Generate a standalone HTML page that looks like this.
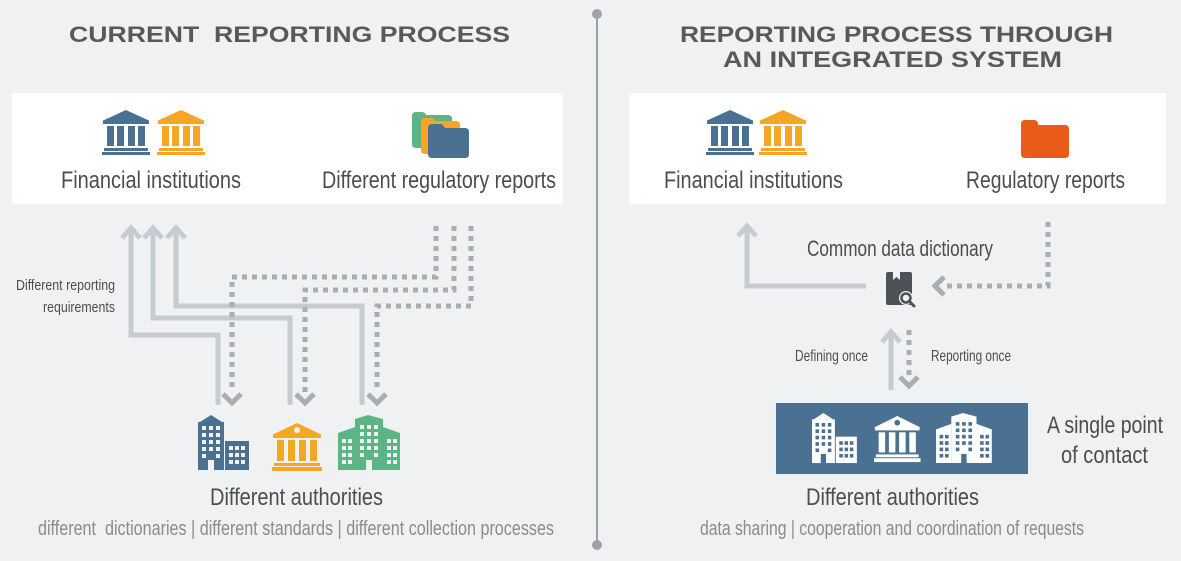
<!DOCTYPE html>
<html><head><meta charset="utf-8"><style>
html,body{margin:0;padding:0;background:#f0f1f3;}
svg{display:block;}
text{font-family:"Liberation Sans",sans-serif;}
</style></head><body>
<svg width="1181" height="561" viewBox="0 0 1181 561" xmlns="http://www.w3.org/2000/svg">
<defs>
<g id="bank">
  <polygon points="0,11 24,0 48,11"/>
  <rect x="1" y="11" width="46" height="3"/>
  <rect x="5" y="16" width="7" height="20"/>
  <rect x="15" y="16" width="7" height="20"/>
  <rect x="26" y="16" width="7" height="20"/>
  <rect x="36" y="16" width="7" height="20"/>
  <rect x="2" y="38" width="44" height="3"/>
  <rect x="0" y="42" width="48" height="3"/>
</g>
<g id="bankc">
  <polygon points="0,12 25,0 50,12"/>
  <rect x="1" y="12" width="48" height="3"/>
  <rect x="5" y="17" width="7" height="21"/>
  <rect x="16" y="17" width="7" height="21"/>
  <rect x="27" y="17" width="7" height="21"/>
  <rect x="38" y="17" width="7" height="21"/>
  <rect x="2" y="40" width="46" height="3"/>
  <rect x="0" y="44" width="50" height="4"/>
  <circle cx="25" cy="7" r="3" style="fill:var(--w)"/>
</g>
<g id="tower">
  <polygon points="2,7 13,0 24,7"/>
  <rect x="0" y="7" width="26" height="48"/>
  <rect x="27" y="26" width="24" height="29"/>
  <g style="fill:var(--w)">
    <rect x="4" y="11" width="4" height="4"/><rect x="11" y="11" width="4" height="4"/><rect x="18" y="11" width="4" height="4"/>
    <rect x="4" y="18" width="4" height="4"/><rect x="11" y="18" width="4" height="4"/><rect x="18" y="18" width="4" height="4"/>
    <rect x="4" y="25" width="4" height="4"/><rect x="11" y="25" width="4" height="4"/><rect x="18" y="25" width="4" height="4"/>
    <rect x="4" y="32" width="4" height="4"/><rect x="11" y="32" width="4" height="4"/><rect x="18" y="32" width="4" height="4"/>
    <rect x="4" y="39" width="4" height="4"/><rect x="18" y="39" width="4" height="4"/>
    <rect x="10" y="45" width="6" height="10"/>
    <rect x="31" y="31" width="4" height="4"/><rect x="37" y="31" width="4" height="4"/><rect x="43" y="31" width="4" height="4"/>
    <rect x="31" y="38" width="4" height="4"/><rect x="37" y="38" width="4" height="4"/><rect x="43" y="38" width="4" height="4"/>
    <rect x="31" y="45" width="4" height="4"/><rect x="37" y="45" width="4" height="4"/><rect x="43" y="45" width="4" height="4"/>
  </g>
</g>
<g id="complex">
  <polygon points="0,18 17,12 17,55 0,55"/>
  <polygon points="17,4 30,0 45,4 45,55 17,55"/>
  <polygon points="45,12 62,18 62,55 45,55"/>
  <g style="fill:var(--w)">
    <rect x="4" y="24" width="4" height="4"/><rect x="10" y="24" width="4" height="4"/>
    <rect x="4" y="31" width="4" height="4"/><rect x="10" y="31" width="4" height="4"/>
    <rect x="4" y="38" width="4" height="4"/><rect x="10" y="38" width="4" height="4"/>
    <rect x="4" y="45" width="4" height="4"/><rect x="10" y="45" width="4" height="4"/>
    <rect x="22" y="10" width="4" height="4"/><rect x="29" y="10" width="4" height="4"/><rect x="36" y="10" width="4" height="4"/>
    <rect x="22" y="17" width="4" height="4"/><rect x="29" y="17" width="4" height="4"/><rect x="36" y="17" width="4" height="4"/>
    <rect x="22" y="24" width="4" height="4"/><rect x="29" y="24" width="4" height="4"/><rect x="36" y="24" width="4" height="4"/>
    <rect x="22" y="31" width="4" height="4"/><rect x="29" y="31" width="4" height="4"/><rect x="36" y="31" width="4" height="4"/>
    <rect x="22" y="38" width="4" height="4"/><rect x="36" y="38" width="4" height="4"/>
    <rect x="28" y="45" width="6" height="10"/>
    <rect x="49" y="24" width="4" height="4"/><rect x="55" y="24" width="4" height="4"/>
    <rect x="49" y="31" width="4" height="4"/><rect x="55" y="31" width="4" height="4"/>
    <rect x="49" y="38" width="4" height="4"/><rect x="55" y="38" width="4" height="4"/>
    <rect x="49" y="45" width="4" height="4"/><rect x="55" y="45" width="4" height="4"/>
  </g>
</g>
</defs>

<line x1="597" y1="14" x2="597" y2="545" stroke="#9da3a9" stroke-width="2"/>
<circle cx="597" cy="14" r="5" fill="#9da3a9"/>
<circle cx="597" cy="545" r="5" fill="#9da3a9"/>

<g fill="#58595b" font-weight="bold" font-size="22">
<text x="69" y="42" textLength="441" lengthAdjust="spacingAndGlyphs" xml:space="preserve">CURRENT  REPORTING PROCESS</text>
<text x="680" y="42" textLength="433" lengthAdjust="spacingAndGlyphs">REPORTING PROCESS THROUGH</text>
<text x="723" y="67" textLength="339" lengthAdjust="spacingAndGlyphs">AN INTEGRATED SYSTEM</text>
</g>

<rect x="12" y="93" width="551" height="111" fill="#fff"/>
<rect x="629" y="93" width="537" height="111" fill="#fff"/>

<use href="#bank" x="102" y="110" fill="#4a7092"/>
<use href="#bank" x="157" y="110" fill="#f5a623"/>
<path d="M412 116 q0-4 4-4 h6 q3 0 4 3 h22 q4 0 4 4 v25 q0 4-4 4 h-32 q-4 0-4-4 z" fill="#5db585"/>
<path d="M421 122 q0-4 4-4 h6 q3 0 4 3 h21 q4 0 4 4 v25 q0 4-4 4 h-31 q-4 0-4-4 z" fill="#f5a623"/>
<path d="M428 128 q0-4 4-4 h10 l3 4 h20 q4 0 4 4 v22 q0 4-4 4 h-33 q-4 0-4-4 z" fill="#4a7092"/>

<g fill="#4d4d4f" font-size="24">
<text x="61" y="188" textLength="180" lengthAdjust="spacingAndGlyphs">Financial institutions</text>
<text x="322" y="188" textLength="234" lengthAdjust="spacingAndGlyphs">Different regulatory reports</text>
<text x="664" y="188" textLength="179" lengthAdjust="spacingAndGlyphs">Financial institutions</text>
<text x="966" y="188" textLength="159" lengthAdjust="spacingAndGlyphs">Regulatory reports</text>
</g>

<use href="#bank" x="706" y="110" fill="#4a7092"/>
<use href="#bank" x="759" y="110" fill="#f5a623"/>
<path d="M1021 124 q0-4 4-4 h9 q3 0 4 3 v2 h27 q4 0 4 4 v25 q0 4-4 4 h-40 q-4 0-4-4 z" fill="#ea5b1a"/>

<g fill="none" stroke="#c6cbd1" stroke-width="5">
<polyline points="131,232 131,335 218,335 218,405"/>
<polyline points="153,232 153,318 290,318 290,405"/>
<polyline points="176,232 176,306 362,306 362,405"/>
<polyline points="122,238 131,228 140,238"/>
<polyline points="144,238 153,228 162,238"/>
<polyline points="167,238 176,228 185,238"/>
</g>
<g fill="none" stroke="#a9aeb4" stroke-width="5" stroke-dasharray="5 5">
<polyline points="436,226 436,277 232,277 232,392"/>
<polyline points="454,226 454,290 305,290 305,392"/>
<polyline points="471,226 471,306 377,306 377,392"/>
</g>
<g fill="none" stroke="#a9aeb4" stroke-width="5">
<polyline points="223,394 232,403 241,394"/>
<polyline points="296,394 305,403 314,394"/>
<polyline points="368,394 377,403 386,394"/>
</g>
<text x="115" y="290" fill="#4d4d4f" font-size="15" text-anchor="end" textLength="99" lengthAdjust="spacingAndGlyphs">Different reporting</text>
<text x="115" y="312" fill="#4d4d4f" font-size="15" text-anchor="end" textLength="72" lengthAdjust="spacingAndGlyphs">requirements</text>

<use href="#tower" x="198" y="415" fill="#4a7092" style="--w:#f0f1f3"/>
<use href="#bankc" x="272" y="423" fill="#f5a623" style="--w:#f0f1f3"/>
<use href="#complex" x="338" y="415" fill="#5db585" style="--w:#f0f1f3"/>
<text x="210" y="505" fill="#4d4d4f" font-size="24" textLength="173" lengthAdjust="spacingAndGlyphs">Different authorities</text>
<text x="38" y="535" fill="#8a8b8d" font-size="20" textLength="516" lengthAdjust="spacingAndGlyphs" xml:space="preserve">different  dictionaries | different standards | different collection processes</text>

<g fill="none" stroke="#c6cbd1" stroke-width="5">
<polyline points="747,228 747,286 866,286"/>
<polyline points="738,236 747,226 756,236"/>
<line x1="891" y1="336" x2="891" y2="390"/>
<polyline points="882,342 891,332 900,342"/>
</g>
<g fill="none" stroke="#a9aeb4" stroke-width="5" stroke-dasharray="5 5">
<polyline points="1048,222 1048,286 942,286"/>
<line x1="909" y1="330" x2="909" y2="378"/>
</g>
<g fill="none" stroke="#a9aeb4" stroke-width="5">
<polyline points="944,277 935,286 944,295"/>
<polyline points="900,377 909,386 918,377"/>
</g>
<text x="807" y="256" fill="#4d4d4f" font-size="22" textLength="186" lengthAdjust="spacingAndGlyphs">Common data dictionary</text>
<rect x="886" y="272" width="26" height="33" rx="2" fill="#4d5258"/>
<rect x="893" y="272" width="7" height="8" fill="#f0f1f3"/>
<polygon points="893,280 896.5,277 900,280" fill="#4d5258"/>
<circle cx="906" cy="298" r="7" fill="#f0f1f3"/>
<circle cx="906" cy="298" r="4.5" fill="none" stroke="#4d5258" stroke-width="2.5"/>
<line x1="909" y1="301" x2="914" y2="306" stroke="#4d5258" stroke-width="3" stroke-linecap="round"/>

<text x="868" y="361" fill="#4d4d4f" font-size="16" text-anchor="end" textLength="73" lengthAdjust="spacingAndGlyphs">Defining once</text>
<text x="931" y="361" fill="#4d4d4f" font-size="16" textLength="80" lengthAdjust="spacingAndGlyphs">Reporting once</text>

<rect x="776" y="403" width="252" height="71" fill="#4a7092"/>
<use href="#tower" x="812" y="413" fill="#fff" style="--w:#4a7092" transform="translate(812 413) scale(0.88 0.91) translate(-812 -413)"/>
<use href="#bankc" x="874" y="416" fill="#fff" style="--w:#4a7092" transform="translate(874 416) scale(0.93 0.96) translate(-874 -416)"/>
<use href="#complex" x="936" y="413" fill="#fff" style="--w:#4a7092" transform="translate(936 413) scale(0.9 0.91) translate(-936 -413)"/>

<text x="1047" y="433" fill="#4d4d4f" font-size="24" textLength="116" lengthAdjust="spacingAndGlyphs">A single point</text>
<text x="1061" y="463" fill="#4d4d4f" font-size="24" textLength="87" lengthAdjust="spacingAndGlyphs">of contact</text>

<text x="806" y="505" fill="#4d4d4f" font-size="24" textLength="173" lengthAdjust="spacingAndGlyphs">Different authorities</text>
<text x="700" y="535" fill="#8a8b8d" font-size="20" textLength="384" lengthAdjust="spacingAndGlyphs">data sharing | cooperation and coordination of requests</text>
</svg>
</body></html>
